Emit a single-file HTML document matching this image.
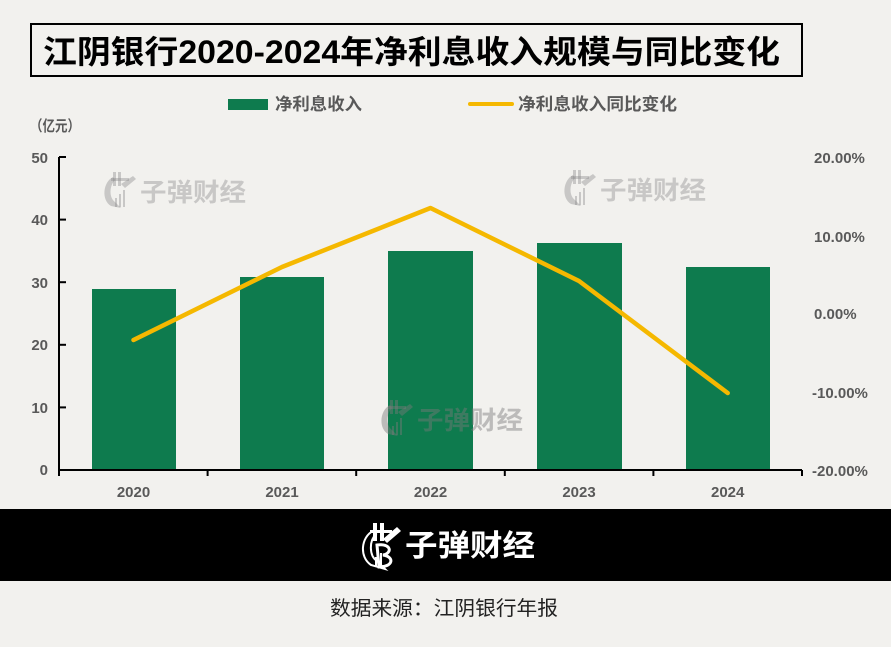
<!DOCTYPE html>
<html><head><meta charset="utf-8"><style>
html,body{margin:0;padding:0;background:#f2f1ee;}
svg{display:block;}
text{font-family:"Liberation Sans","Noto Sans CJK SC",sans-serif;}
</style></head><body>
<svg width="891" height="647" viewBox="0 0 891 647" xmlns="http://www.w3.org/2000/svg">
<rect x="0" y="0" width="891" height="647" fill="#f2f1ee"/>
<!-- Title -->
<rect x="31" y="24" width="771" height="52" fill="none" stroke="#000" stroke-width="2"/>
<text x="43" y="63" font-size="32" font-weight="bold" fill="#000" textLength="737" lengthAdjust="spacingAndGlyphs" style="font-family:'Liberation Sans','Noto Sans CJK SC',sans-serif">江阴银行2020-2024年净利息收入规模与同比变化</text>
<!-- Legend -->
<rect x="228" y="99" width="40" height="11" fill="#0e7b4e"/>
<text x="275" y="110" font-size="17" font-weight="bold" fill="#595959" textLength="87" lengthAdjust="spacingAndGlyphs">净利息收入</text>
<line x1="470" y1="104" x2="512" y2="104" stroke="#f5b800" stroke-width="4" stroke-linecap="round"/>
<text x="518" y="110" font-size="17" font-weight="bold" fill="#595959" textLength="159" lengthAdjust="spacingAndGlyphs">净利息收入同比变化</text>
<text x="30" y="131" font-size="15" font-weight="bold" fill="#595959" textLength="50" lengthAdjust="spacingAndGlyphs">（亿元）</text>

<!-- Watermarks -->
<g fill="#8a8a8a" fill-opacity="0.4">
  <g transform="translate(103,172)">
    <path d="M10 5 C0 10 -2 28 8 34 L18 36 L12 30 C6 26 6 14 12 8 Z"/>
    <rect x="10" y="0" width="3" height="14"/><rect x="15" y="0" width="3" height="14"/>
    <rect x="8" y="6" width="18" height="3"/>
    <path d="M18 12 L30 4 L33 7 L22 16 Z"/>
    <rect x="12" y="26" width="2" height="9"/><rect x="16" y="22" width="2" height="13"/><rect x="20" y="18" width="2" height="17"/>
  </g>
  <text x="140" y="201" font-size="25" font-weight="bold" textLength="106" lengthAdjust="spacingAndGlyphs">子弹财经</text>
  <g transform="translate(563,170)">
    <path d="M10 5 C0 10 -2 28 8 34 L18 36 L12 30 C6 26 6 14 12 8 Z"/>
    <rect x="10" y="0" width="3" height="14"/><rect x="15" y="0" width="3" height="14"/>
    <rect x="8" y="6" width="18" height="3"/>
    <path d="M18 12 L30 4 L33 7 L22 16 Z"/>
    <rect x="12" y="26" width="2" height="9"/><rect x="16" y="22" width="2" height="13"/><rect x="20" y="18" width="2" height="17"/>
  </g>
  <text x="600" y="199" font-size="25" font-weight="bold" textLength="106" lengthAdjust="spacingAndGlyphs">子弹财经</text>
</g>

<!-- Bars -->
<g fill="#0e7b4e">
  <rect x="92" y="289" width="84" height="181"/>
  <rect x="240" y="277" width="84" height="193"/>
  <rect x="388" y="251" width="85" height="219"/>
  <rect x="537" y="243" width="85" height="227"/>
  <rect x="686" y="267" width="84" height="203"/>
</g>

<!-- center watermark over bars -->
<g fill="#7a7a7a" fill-opacity="0.45">
  <g transform="translate(380,400)">
    <path d="M10 5 C0 10 -2 28 8 34 L18 36 L12 30 C6 26 6 14 12 8 Z"/>
    <rect x="10" y="0" width="3" height="14"/><rect x="15" y="0" width="3" height="14"/>
    <rect x="8" y="6" width="18" height="3"/>
    <path d="M18 12 L30 4 L33 7 L22 16 Z"/>
    <rect x="12" y="26" width="2" height="9"/><rect x="16" y="22" width="2" height="13"/><rect x="20" y="18" width="2" height="17"/>
  </g>
  <text x="417" y="429" font-size="25" font-weight="bold" textLength="106" lengthAdjust="spacingAndGlyphs">子弹财经</text>
</g>

<!-- Axes -->
<g stroke="#000" stroke-width="2" fill="none">
  <line x1="59" y1="157" x2="59" y2="476"/>
  <line x1="58" y1="470" x2="802" y2="470"/>
  <line x1="59" y1="157" x2="66" y2="157"/>
  <line x1="59" y1="219.6" x2="66" y2="219.6"/>
  <line x1="59" y1="282.2" x2="66" y2="282.2"/>
  <line x1="59" y1="344.8" x2="66" y2="344.8"/>
  <line x1="59" y1="407.4" x2="66" y2="407.4"/>
  <line x1="207.6" y1="470" x2="207.6" y2="476"/>
  <line x1="356.2" y1="470" x2="356.2" y2="476"/>
  <line x1="504.8" y1="470" x2="504.8" y2="476"/>
  <line x1="653.4" y1="470" x2="653.4" y2="476"/>
  <line x1="802" y1="470" x2="802" y2="476"/>
</g>

<!-- Left tick labels -->
<g font-size="15" font-weight="bold" fill="#595959" text-anchor="end">
  <text x="48" y="163">50</text>
  <text x="48" y="225">40</text>
  <text x="48" y="288">30</text>
  <text x="48" y="350">20</text>
  <text x="48" y="413">10</text>
  <text x="48" y="475">0</text>
</g>
<!-- Right tick labels -->
<g font-size="15" font-weight="bold" fill="#595959">
  <text x="814" y="163">20.00%</text>
  <text x="814" y="242">10.00%</text>
  <text x="814" y="319">0.00%</text>
  <text x="812" y="398">-10.00%</text>
  <text x="812" y="476">-20.00%</text>
</g>
<!-- Category labels -->
<g font-size="15" font-weight="bold" fill="#595959" text-anchor="middle">
  <text x="133.5" y="497">2020</text>
  <text x="282" y="497">2021</text>
  <text x="430.5" y="497">2022</text>
  <text x="579" y="497">2023</text>
  <text x="727.7" y="497">2024</text>
</g>

<!-- Line -->
<polyline points="133.5,340 282,267 430.5,208 579,281 727.7,393" fill="none" stroke="#f5b800" stroke-width="4.5" stroke-linejoin="round" stroke-linecap="round"/>

<!-- Footer band -->
<rect x="0" y="509" width="891" height="72" fill="#000"/>
<g fill="#fff" transform="translate(361,523)">
  <path d="M12 8 C0 14 -2 34 10 42 L24 46 L16 38 C8 33 8 18 15 11 Z" fill="none" stroke="#fff" stroke-width="2"/>
  <rect x="12" y="0" width="4" height="18"/><rect x="19" y="0" width="4" height="18"/>
  <rect x="9" y="7" width="22" height="3"/>
  <path d="M22 16 L36 4 L40 8 L26 20 Z"/>
  <path d="M16 22 C30 20 32 30 22 32 C34 34 32 44 18 44 Z" fill="none" stroke="#fff" stroke-width="3"/>
  <rect x="14" y="34" width="2" height="10"/><rect x="19" y="30" width="2" height="14"/>
</g>
<text x="405" y="556" font-size="30" font-weight="bold" fill="#fff" textLength="130" lengthAdjust="spacingAndGlyphs">子弹财经</text>

<!-- Source -->
<text x="330" y="615" font-size="20" fill="#222" textLength="228" lengthAdjust="spacingAndGlyphs">数据来源：江阴银行年报</text>
</svg>
</body></html>
